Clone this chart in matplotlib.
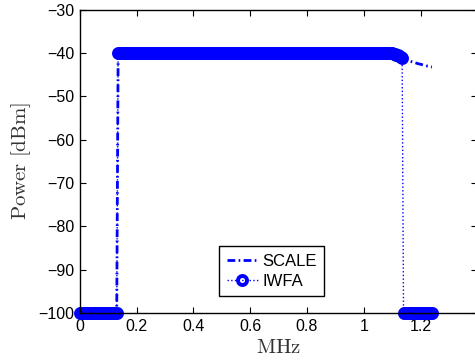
import numpy as np
import matplotlib
matplotlib.use("Agg")
import matplotlib.pyplot as plt

# frequency grid of the spectrum samples (MHz)
freq_mhz = np.round(np.arange(0, 1.2401, 0.005), 3)

# SCALE power allocation (dBm)
scale_tail = [-40.1, -40.2, -40.35, -40.5, -40.7, -40.9, -41.1, -41.3, -41.45, -41.6,
              -41.7, -41.8, -41.9, -42.0, -42.1, -42.2, -42.3, -42.4, -42.5,
              -42.55, -42.65, -42.75, -42.8, -42.9, -43.0, -43.05, -43.15, -43.2]
scale_dbm = [-100.0] * 27 + [-40.0] * 194 + scale_tail

# IWFA power allocation (dBm)
iwfa_tail = [-40.1, -40.2, -40.35, -40.5, -40.7, -40.9, -41.1]
iwfa_dbm = [-100.0] * 27 + [-40.0] * 194 + iwfa_tail + [-100.0] * 21

x_ticks = [0, 0.2, 0.4, 0.6, 0.8, 1.0, 1.2]
x_tick_labels = ["0", "0.2", "0.4", "0.6", "0.8", "1", "1.2"]
y_ticks = [-100, -90, -80, -70, -60, -50, -40, -30]

plt.rcParams["font.family"] = ["Liberation Sans", "DejaVu Sans"]
plt.rcParams["mathtext.fontset"] = "cm"

fig = plt.figure(figsize=(4.75, 3.6), dpi=100)
ax = fig.add_axes([0.168, 0.1306, 0.837, 0.842])

blue = "#0000ff"
ax.plot(freq_mhz, scale_dbm, linestyle=(0, (2.8, 1.2, 0.6, 1.2)), color=blue,
        linewidth=2, label="SCALE")
ax.plot(freq_mhz, iwfa_dbm, linestyle=":", color=blue, linewidth=1,
        marker="o", markersize=6.5, markeredgewidth=2.8,
        markerfacecolor="none", markeredgecolor=blue, label="IWFA", clip_on=False)

ax.set_xlim(0, 1.4)
ax.set_ylim(-100, -30)
ax.set_xticks(x_ticks)
ax.set_xticklabels(x_tick_labels)
ax.set_yticks(y_ticks)
ax.set_yticklabels([f"\u2212{abs(v)}" for v in y_ticks])

ax.tick_params(direction="in", top=True, right=True, length=4, width=0.8,
               labelsize=11.5, pad=4)
for s in ax.spines.values():
    s.set_linewidth(1)

ax.set_xlabel(r"$\mathrm{MHz}$", fontsize=15, color="#333333", labelpad=3)
ax.set_ylabel(r"$\mathrm{Power\ [dBm]}$", fontsize=15, color="#333333", labelpad=4)

leg = ax.legend(loc="lower center", bbox_to_anchor=(0.483, 0.056), fontsize=12,
                fancybox=False, framealpha=1, edgecolor="black",
                handlelength=1.9, borderpad=0.45, labelspacing=0.3,
                handletextpad=0.25, borderaxespad=0)
leg.get_frame().set_linewidth(1)

fig.savefig("out.png", dpi=100)
